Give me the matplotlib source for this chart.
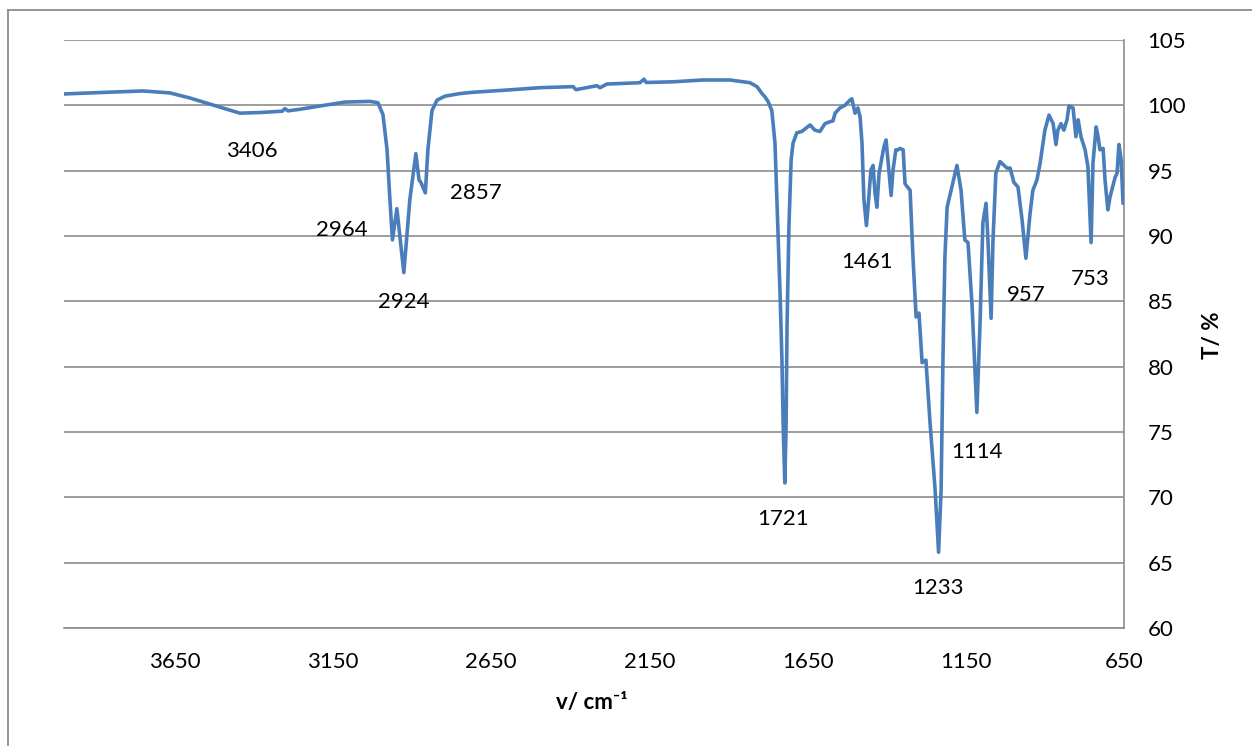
import matplotlib
matplotlib.use("Agg")
import matplotlib.pyplot as plt
from matplotlib.lines import Line2D

plt.rcParams['font.family'] = ['Lato', 'DejaVu Sans']

# ---- data ----
wavenumber = [
    4000, 3886, 3751, 3665, 3602, 3539, 3444, 3381, 3310, 3302, 3292, 3254, 3191, 3112,
    3033, 3008, 2992, 2979, 2970, 2962, 2948, 2926, 2907, 2888, 2878, 2872, 2858, 2850,
    2837, 2821, 2796, 2749, 2708, 2600, 2496, 2391, 2382, 2316, 2306, 2284, 2180, 2167,
    2160, 2075, 1981, 1895, 1832, 1810, 1794, 1785, 1775, 1763, 1753, 1744, 1737, 1731,
    1727, 1722, 1718, 1715, 1709, 1702, 1696, 1684, 1668, 1642, 1627, 1611, 1595, 1579,
    1570, 1563, 1548, 1532, 1516, 1510, 1500, 1491, 1484, 1478, 1472, 1464, 1457, 1450,
    1443, 1437, 1431, 1424, 1418, 1409, 1402, 1396, 1386, 1380, 1371, 1364, 1358, 1348,
    1342, 1336, 1326, 1317, 1307, 1298, 1288, 1276, 1263, 1247, 1236, 1228, 1222, 1216,
    1209, 1194, 1178, 1165, 1153, 1143, 1130, 1115, 1105, 1096, 1086, 1080, 1070, 1064,
    1055, 1042, 1020, 1010, 998, 985, 972, 960, 947, 938, 925, 915, 900, 887,
    874, 865, 859, 849, 840, 830, 824, 811, 802, 795, 786, 773, 764, 754,
    748, 738, 732, 726, 716, 710, 701, 694, 678, 672, 666, 659, 653,
]
transmittance = [
    100.87, 100.98, 101.10, 100.95, 100.56, 100.10, 99.40, 99.45, 99.55, 99.75, 99.58, 99.70, 99.95, 100.25,
    100.30, 100.20, 99.30, 96.60, 92.80, 89.70, 92.10, 87.20, 92.80, 96.30, 94.30, 94.10, 93.30, 96.60,
    99.60, 100.40, 100.70, 100.90, 101.00, 101.17, 101.35, 101.43, 101.20, 101.50, 101.35, 101.63, 101.73, 102.00,
    101.75, 101.80, 101.94, 101.94, 101.73, 101.43, 100.90, 100.66, 100.30, 99.60, 97.10, 90.70, 85.60, 80.50,
    75.40, 71.10, 75.40, 83.00, 90.70, 95.80, 97.10, 97.90, 98.00, 98.50, 98.10, 98.00, 98.60, 98.75,
    98.80, 99.40, 99.80, 100.00, 100.40, 100.50, 99.40, 99.80, 99.10, 97.10, 92.80, 90.80, 92.80, 95.05,
    95.40, 93.30, 92.20, 94.80, 95.60, 96.80, 97.35, 95.80, 93.10, 95.05, 96.60, 96.60, 96.70, 96.60,
    94.00, 93.80, 93.50, 88.40, 83.80, 84.10, 80.30, 80.50, 75.70, 70.60, 65.80, 70.60, 80.80, 88.40,
    92.20, 93.75, 95.40, 93.50, 89.70, 89.50, 84.60, 76.50, 83.30, 91.00, 92.50, 89.70, 83.70, 89.70,
    94.80, 95.70, 95.20, 95.20, 94.10, 93.75, 91.20, 88.30, 91.70, 93.50, 94.30, 95.60, 98.10, 99.25,
    98.60, 97.00, 98.10, 98.60, 98.10, 98.90, 99.95, 99.80, 97.60, 98.90, 97.60, 96.60, 95.30, 89.50,
    95.60, 98.35, 97.60, 96.60, 96.70, 94.30, 92.00, 93.00, 94.50, 94.80, 97.00, 95.80, 92.50,
]

peak_labels = ["3406", "2964", "2924", "2857", "1721", "1461", "1233", "1114", "957", "753"]
peak_label_x = [3406, 3122, 2926, 2698, 1728, 1462, 1238, 1115, 960, 757]
peak_label_y = [96.5, 90.46, 84.95, 93.3, 68.35, 88.0, 63.07, 73.48, 85.5, 86.7]

x_ticks = [3650, 3150, 2650, 2150, 1650, 1150, 650]
y_ticks = [60, 65, 70, 75, 80, 85, 90, 95, 100, 105]

# ---- figure ----
W, H = 1252, 746
fig = plt.figure(figsize=(W / 100, H / 100), dpi=100)
ax = fig.add_axes([64 / W, 1 - 628 / H, (1124 - 64) / W, (628 - 40) / H])

grid_c = '#8c8c8c'
ax.plot(wavenumber, transmittance, color='#4a7ebb', lw=2.6,
        solid_joinstyle='round', solid_capstyle='round', zorder=3)

ax.set_xlim(4000, 650)
ax.set_ylim(60, 105)
ax.set_xticks(x_ticks)
ax.set_yticks(y_ticks)
ax.yaxis.tick_right()
ax.tick_params(axis='both', length=0, labelsize=16, colors='black')
ax.tick_params(axis='y', pad=17)
ax.tick_params(axis='x', pad=17)

for s in ['left', 'top']:
    ax.spines[s].set_visible(False)
for s in ['right', 'bottom']:
    ax.spines[s].set_color(grid_c)
    ax.spines[s].set_linewidth(1.2)

ax.yaxis.grid(True, color=grid_c, lw=1.2, zorder=0)
ax.set_axisbelow(True)

for lab, lx, ly in zip(peak_labels, peak_label_x, peak_label_y):
    ax.text(lx, ly, lab, ha='center', va='center', fontsize=16, color='black', zorder=4)

fig.text(592 / W, 1 - 702 / H, "v/ cm⁻¹", ha='center', va='center',
         fontsize=16, fontweight='bold')
fig.text(1213 / W, 1 - 335 / H, "T/ %", ha='center', va='center',
         fontsize=16, fontweight='bold', rotation=90)

# chart-area frame (left and top edges visible)
fig.add_artist(Line2D([8 / W, 8 / W], [0, 1 - 10 / H], transform=fig.transFigure,
                      color=grid_c, lw=1.3))
fig.add_artist(Line2D([8 / W, 1], [1 - 10 / H, 1 - 10 / H], transform=fig.transFigure,
                      color=grid_c, lw=1.3))

fig.savefig("out.png", dpi=100, facecolor='white')
